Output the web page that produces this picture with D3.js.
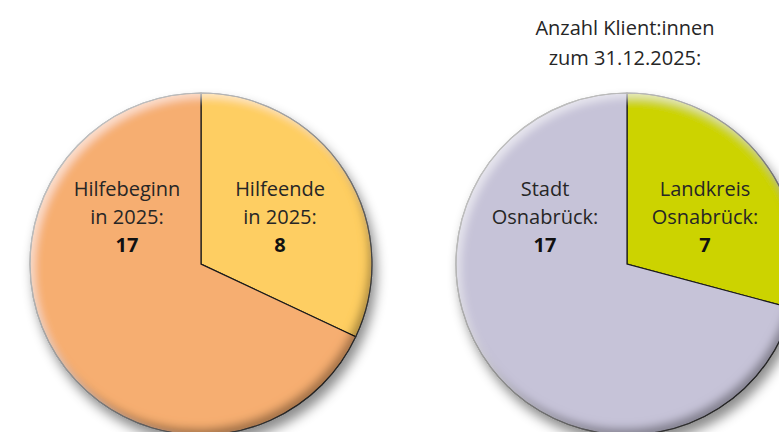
<!DOCTYPE html>
<html lang="de">
<head>
    <meta charset="utf-8">
    <title>Hilfebeginn / Klient:innen</title>
    <script src="https://d3js.org/d3.v7.min.js"></script>
    <style type="text/css">
        body { margin: 0; background: #fff; }
        text { font-family: "Open Sans", sans-serif; font-size: 20px; fill: #262626; }
        .num { font-weight: bold; fill: #111; }
    </style>
</head>
<body>
<script type="text/javascript">

    const w = 779;
    const h = 432;

    // Data (slices run clockwise from 12 o'clock)
    const leftCategories = ["Hilfeende", "Hilfebeginn"];
    const leftSubLabels = ["in 2025:", "in 2025:"];
    const leftValues = [8, 17];

    const rightCategories = ["Landkreis", "Stadt"];
    const rightSubLabels = ["Osnabrück:", "Osnabrück:"];
    const rightValues = [7, 17];

    const titleLines = ["Anzahl Klient:innen", "zum 31.12.2025:"];

    // Layout
    const radius = 171;
    const cy = 264;
    const leftCx = 201;
    const rightCx = 627;
    const leftColors = ["#fece62", "#f6ae71"];
    const rightColors = ["#ccd300", "#c6c3d8"];
    // label block centre offsets from pie centre (first baseline)
    const leftLabelPos = [[79, -68], [-74, -68]];
    const rightLabelPos = [[78, -68], [-82, -68]];

    const svg = d3.select("body")
        .append("svg")
        .attr("width", w)
        .attr("height", h);

    // 3D-ish filter: drop shadow, inner dark edge at the bottom, inner highlight top-left
    const defs = svg.append("defs");
    const f = defs.append("filter")
        .attr("id", "bevel")
        .attr("x", "-20%").attr("y", "-20%")
        .attr("width", "145%").attr("height", "145%");
    f.append("feGaussianBlur").attr("in", "SourceAlpha").attr("stdDeviation", 6).attr("result", "blurA");
    f.append("feOffset").attr("in", "blurA").attr("dx", 4).attr("dy", 8).attr("result", "dropOff");
    f.append("feFlood").attr("flood-color", "#000").attr("flood-opacity", 0.45).attr("result", "dropCol");
    f.append("feComposite").attr("in", "dropCol").attr("in2", "dropOff").attr("operator", "in").attr("result", "drop");

    f.append("feGaussianBlur").attr("in", "SourceAlpha").attr("stdDeviation", 4).attr("result", "blurB");
    f.append("feOffset").attr("in", "blurB").attr("dx", -4).attr("dy", -7).attr("result", "offDark");
    f.append("feComposite").attr("in", "SourceAlpha").attr("in2", "offDark").attr("operator", "out").attr("result", "maskDark");
    f.append("feFlood").attr("flood-color", "#000").attr("flood-opacity", 0.6).attr("result", "colDark");
    f.append("feComposite").attr("in", "colDark").attr("in2", "maskDark").attr("operator", "in").attr("result", "innerDark");

    f.append("feOffset").attr("in", "blurB").attr("dx", 5).attr("dy", 5).attr("result", "offLight");
    f.append("feComposite").attr("in", "SourceAlpha").attr("in2", "offLight").attr("operator", "out").attr("result", "maskLight");
    f.append("feFlood").attr("flood-color", "#fff").attr("flood-opacity", 0.55).attr("result", "colLight");
    f.append("feComposite").attr("in", "colLight").attr("in2", "maskLight").attr("operator", "in").attr("result", "innerLight");

    const merge = f.append("feMerge");
    merge.append("feMergeNode").attr("in", "drop");
    merge.append("feMergeNode").attr("in", "SourceGraphic");
    merge.append("feMergeNode").attr("in", "innerDark");
    merge.append("feMergeNode").attr("in", "innerLight");

    const pie = d3.pie().sort(null).value(d => d);
    const arc = d3.arc().innerRadius(0).outerRadius(radius);

    function drawPie(cx, values, colors, cats, subs, labelPos) {
        const g = svg.append("g")
            .attr("transform", "translate(" + cx + "," + cy + ")");

        g.append("g")
            .attr("filter", "url(#bevel)")
            .selectAll("path")
            .data(pie(values))
            .join("path")
            .attr("d", arc)
            .attr("fill", (d, i) => colors[i])
            .attr("stroke", "#1a1a1a")
            .attr("stroke-width", 1.2);

        const labels = g.selectAll(".lbl")
            .data(values)
            .join("text")
            .attr("class", "lbl")
            .attr("text-anchor", "middle")
            .attr("transform", (d, i) => "translate(" + labelPos[i][0] + "," + labelPos[i][1] + ")");

        labels.append("tspan").attr("x", 0).attr("dy", 0).text((d, i) => cats[i]);
        labels.append("tspan").attr("x", 0).attr("dy", 28).text((d, i) => subs[i]);
        labels.append("tspan").attr("x", 0).attr("dy", 28).attr("class", "num").text(d => d);
    }

    drawPie(leftCx, leftValues, leftColors, leftCategories, leftSubLabels, leftLabelPos);
    drawPie(rightCx, rightValues, rightColors, rightCategories, rightSubLabels, rightLabelPos);

    // Title over right pie
    svg.append("text")
        .attr("text-anchor", "middle")
        .selectAll("tspan")
        .data(titleLines)
        .join("tspan")
        .attr("x", 625)
        .attr("y", (d, i) => 35 + i * 30)
        .text(d => d);

</script>
</body>
</html>
